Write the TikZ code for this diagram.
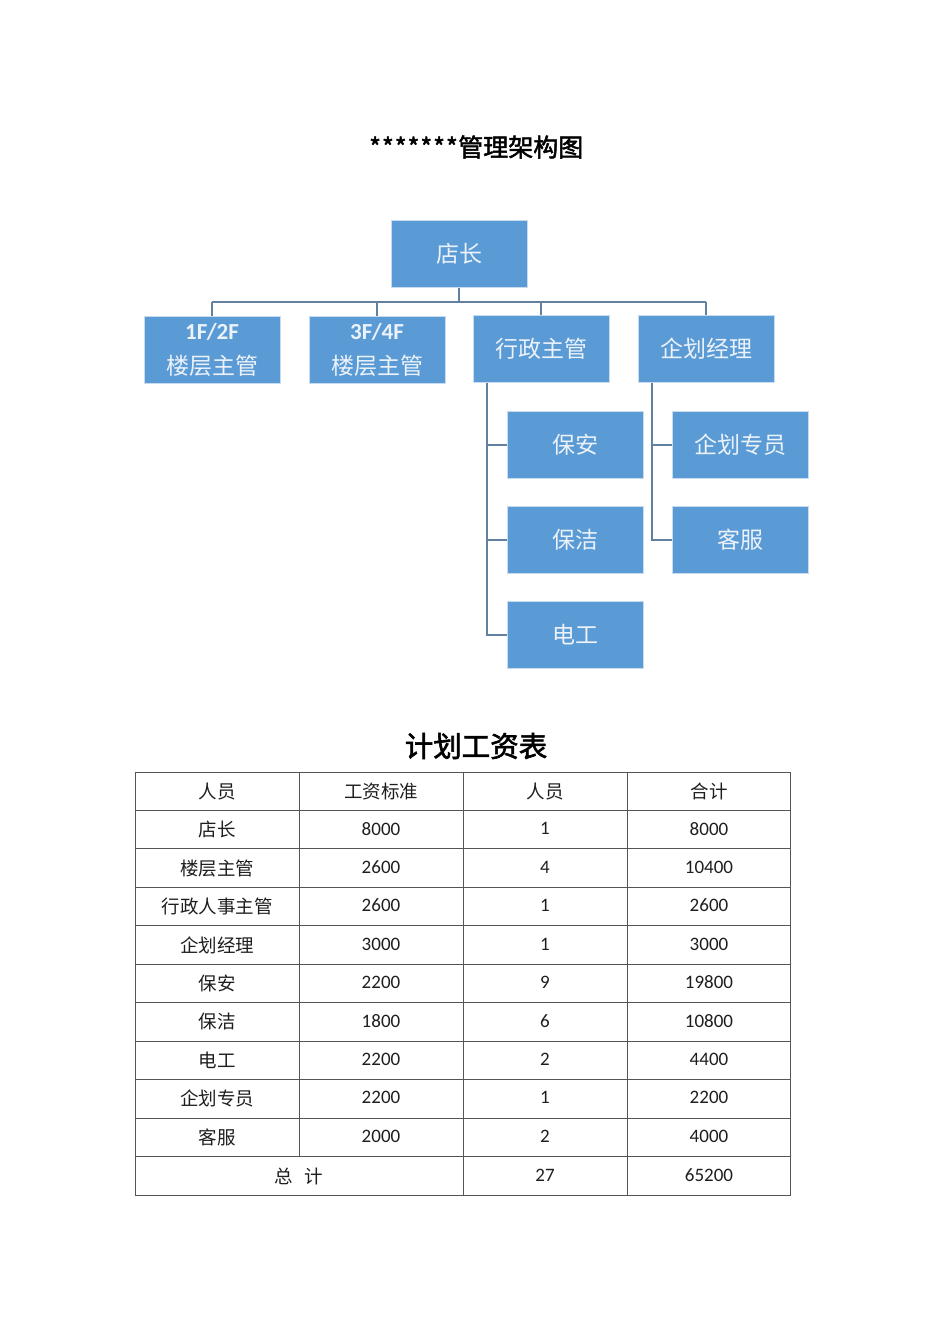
\documentclass[tikz,border=0pt]{standalone}
\usepackage{fontspec}
\setmainfont{Carlito}
\newfontfamily\cjk{Noto Sans CJK SC}
\newfontfamily\cjkb[FakeBold=2]{Noto Sans CJK SC}
\definecolor{boxblue}{RGB}{91,155,213}
\definecolor{boxedge}{RGB}{200,220,240}
\definecolor{boxtext}{RGB}{236,242,250}
\definecolor{connc}{RGB}{98,128,160}
\definecolor{gridc}{RGB}{85,85,85}
\definecolor{txt}{RGB}{30,30,30}
\begin{document}
\begin{tikzpicture}[x=1pt,y=-1pt,
  orgbox/.style={draw=boxedge, line width=1pt, fill=boxblue, minimum width=136, minimum height=67, inner sep=0pt, text=boxtext, font=\cjk\fontsize{23}{27}\selectfont, align=center},
  conn/.style={draw=connc, line width=2pt},
  cell/.style={text=txt, inner sep=0pt, anchor=center},
  cjkcell/.style={cell, font=\cjk\fontsize{18.5}{21}\selectfont},
  numcell/.style={cell, font=\fontsize{19}{21}\selectfont},
  grid/.style={draw=gridc, line width=1pt}]
\useasboundingbox (0,0) rectangle (950,1344);
% title
\node[inner sep=0pt, text=black, font=\cjkb\fontsize{25}{29}\selectfont] (title) at (476,147)
  {\foreach \i in {1,...,7}{\makebox[12.8pt]{*}}管理架构图};
% org chart
\node[orgbox] (dz) at (459,253.5) {店长};
\node[orgbox] (f12) at (212,349.5) {{\fontspec{Carlito}\bfseries\fontsize{23}{23}\selectfont 1F/2F}\\[8pt]楼层主管};
\node[orgbox] (f34) at (377,349.5) {{\fontspec{Carlito}\bfseries\fontsize{23}{23}\selectfont 3F/4F}\\[8pt]楼层主管};
\node[orgbox] (xz) at (541,348.5) {行政主管};
\node[orgbox] (qh) at (706,348.5) {企划经理};
\node[orgbox] (ba) at (575,444.5) {保安};
\node[orgbox] (bj) at (575,539.5) {保洁};
\node[orgbox] (dg) at (575,634.5) {电工};
\node[orgbox] (qz) at (740,444.5) {企划专员};
\node[orgbox] (kf) at (740,539.5) {客服};
\coordinate (busL) at (212,302);
\coordinate (busR) at (706,302);
\draw[conn] (busL) -- (busR);
\draw[conn] (dz.south) -- (dz.south |- busL);
\foreach \n in {f12,f34,xz,qh}{\draw[conn] (\n.north) -- (\n.north |- busL);}
\coordinate (xzl) at (487,383);
\coordinate (qhl) at (652,383);
\draw[conn] (xzl) |- (dg.west);
\draw[conn] (ba.west) -- (ba.west -| xzl);
\draw[conn] (bj.west) -- (bj.west -| xzl);
\draw[conn] (qhl) |- (kf.west);
\draw[conn] (qz.west) -- (qz.west -| qhl);
% table title
\node[inner sep=0pt, text=black, font=\cjkb\fontsize{28.5}{32}\selectfont] (ttitle) at (476,746) {计划工资表};
% table grid
\def\rh{38.4545}
\draw[grid] (135,772) rectangle (790,1195);
\foreach \r in {1,...,10}{\draw[grid] (135,772+\r*\rh) -- (790,772+\r*\rh);}
\draw[grid] (299,772) -- (299,1156.5);
\draw[grid] (463,772) -- (463,1195);
\draw[grid] (627,772) -- (627,1195);
% header
\node[cjkcell] (h1) at (217,791.2) {人员};
\node[cjkcell] (h2) at (381,791.2) {工资标准};
\node[cjkcell] (h3) at (545,791.2) {人员};
\node[cjkcell] (h4) at (709,791.2) {合计};
\foreach \a/\b/\c/\d [count=\k] in {店长/8000/1/8000, 楼层主管/2600/4/10400, 行政人事主管/2600/1/2600, 企划经理/3000/1/3000, 保安/2200/9/19800, 保洁/1800/6/10800, 电工/2200/2/4400, 企划专员/2200/1/2200, 客服/2000/2/4000}{
  \node[cjkcell] (r\k a) at (217,791.2+\k*\rh) {\a};
  \node[numcell] (r\k b) at (381,790.2+\k*\rh) {\b};
  \node[numcell] (r\k c) at (545,790.2+\k*\rh) {\c};
  \node[numcell] (r\k d) at (709,790.2+\k*\rh) {\d};
}
\node[cjkcell] (tota) at (299,1176) {总\hspace{0.6em}计};
\node[numcell] (totc) at (545,1175) {27};
\node[numcell] (totd) at (709,1175) {65200};
\end{tikzpicture}
\end{document}
